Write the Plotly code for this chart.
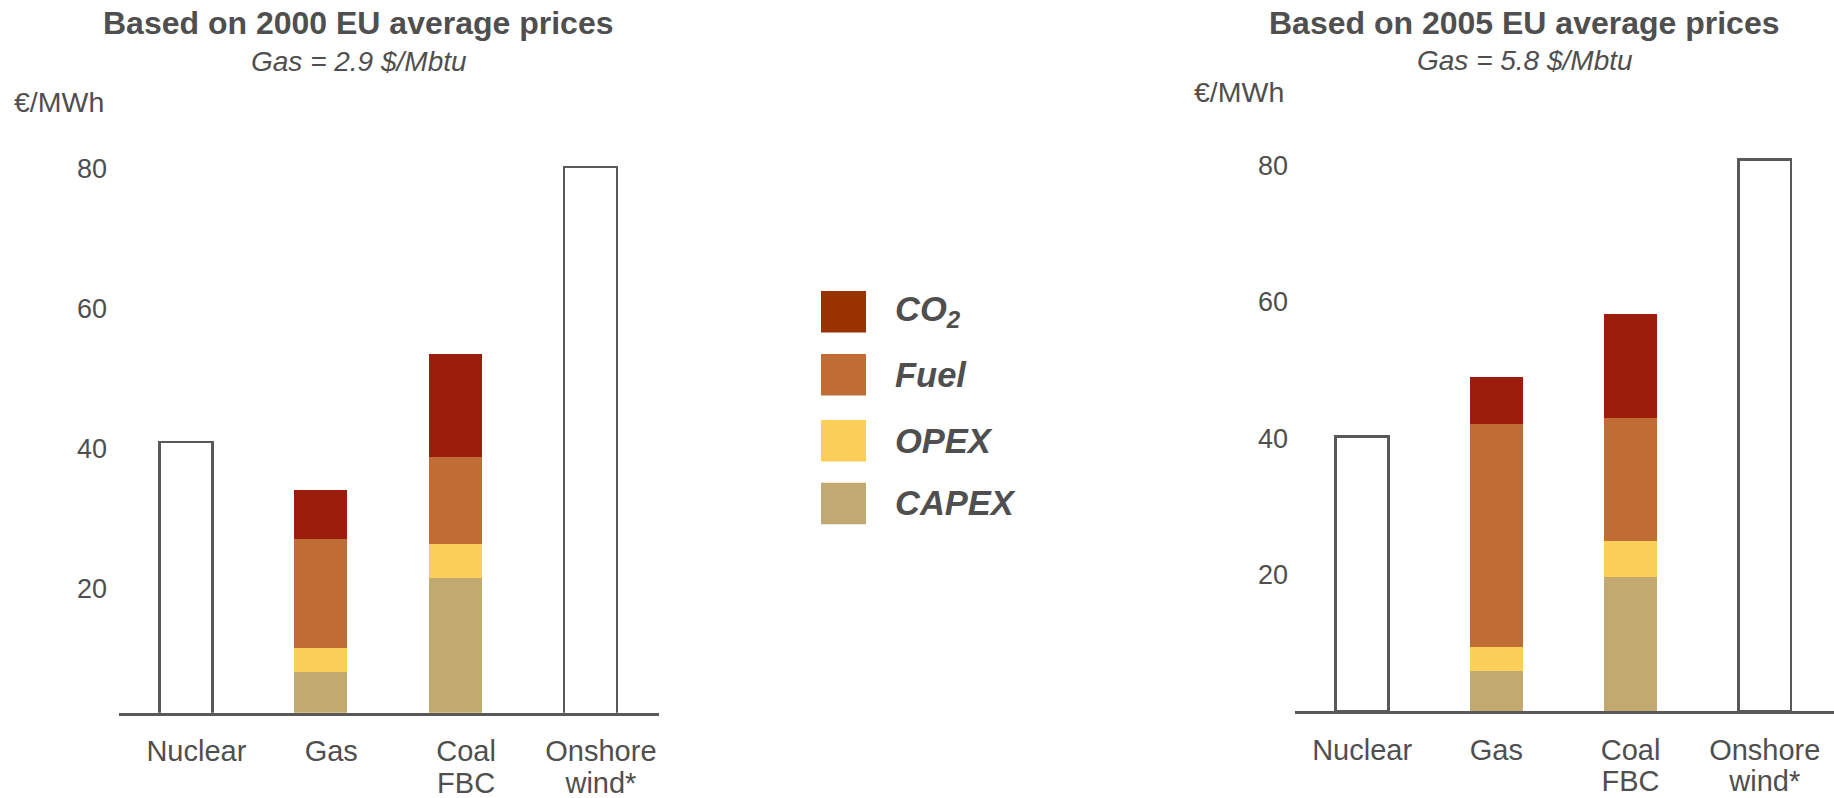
import plotly.graph_objects as go

W, H = 1834, 798

# ---------------- data ----------------
categories = ["Nuclear", "Gas", "Coal FBC", "Onshore wind*"]
tick_labels = ["Nuclear", "Gas", "Coal<br>FBC", "Onshore<br>wind*"]
y_ticks = [20, 40, 60, 80]

# Based on 2000 EU average prices (Gas = 2.9 $/Mbtu), EUR/MWh
capex_2000 = [None, 8.1, 21.5, None]
opex_2000 = [None, 3.4, 4.8, None]
fuel_2000 = [None, 15.6, 12.5, None]
co2_2000 = [None, 6.9, 14.7, None]
total_2000 = [40.9, None, None, 80.2]

# Based on 2005 EU average prices (Gas = 5.8 $/Mbtu), EUR/MWh
capex_2005 = [None, 5.8, 19.7, None]
opex_2005 = [None, 3.6, 5.2, None]
fuel_2005 = [None, 32.7, 18.1, None]
co2_2005 = [None, 6.8, 15.2, None]
total_2005 = [40.2, None, None, 80.8]

legend_labels = ["CO<sub>2</sub>", "Fuel", "OPEX", "CAPEX"]

# ---------------- styles ----------------
TXT = "#4f4f4f"
LINE = "#595959"
FONT = "Liberation Sans, Arial, sans-serif"
bar_colors = {"CAPEX": "#C2A970", "OPEX": "#FBCF5A", "Fuel": "#BF6C35", "CO2": "#9C1D0B"}
legend_colors = ["#983300", "#BF6C35", "#FBCF5A", "#C2A971"]


def px(x):
    return x / W


def py(y):
    return 1 - y / H


fig = go.Figure()

panels = [
    ("x", "y", [capex_2000, opex_2000, fuel_2000, co2_2000], total_2000, -0.2744, 0.393),
    ("x2", "y2", [capex_2005, opex_2005, fuel_2005, co2_2005], total_2005, -0.197, 0.394),
]
names = ["CAPEX", "OPEX", "Fuel", "CO2"]
for xa, ya, comps, tot, off, wid in panels:
    for name, vals in zip(names, comps):
        fig.add_trace(go.Bar(
            x=categories, y=vals, name=name, xaxis=xa, yaxis=ya,
            marker=dict(color=bar_colors[name], line=dict(width=0)),
            offset=off, width=wid, showlegend=False, hoverinfo="skip",
        ))
    fig.add_trace(go.Bar(
        x=categories, y=tot, name="Total", xaxis=xa, yaxis=ya,
        marker=dict(color="white", line=dict(color=LINE, width=2.5)),
        offset=off, width=wid, showlegend=False, hoverinfo="skip",
    ))

# split the category labels into first and second lines
line1 = [t.split("<br>")[0] for t in tick_labels]
second_idx = [i for i, t in enumerate(tick_labels) if "<br>" in t]
line2 = [tick_labels[i].split("<br>")[1] for i in second_idx]

# helper (invisible) traces so the second-line label axes are drawn
for xa, ya in [("x3", "y"), ("x4", "y2")]:
    fig.add_trace(go.Scatter(x=second_idx, y=[None] * len(second_idx), xaxis=xa, yaxis=ya,
                             mode="markers", showlegend=False, hoverinfo="skip"))

CAT_FONT = dict(family=FONT, size=29, color=TXT)
xcommon = dict(
    type="category", categoryorder="array", categoryarray=categories,
    tickvals=categories, ticktext=line1,
    showline=True, linecolor=LINE, linewidth=2.5, ticks="",
    showgrid=False, zeroline=False, automargin=False,
    tickfont=CAT_FONT, ticklabelstandoff=11,
)
x2nd = dict(
    type="linear", tickvals=second_idx, ticktext=line2, side="bottom",
    showline=False, ticks="", showgrid=False, zeroline=False, automargin=False,
    tickfont=CAT_FONT, ticklabelstandoff=50,
)
ycommon = dict(
    tickvals=y_ticks, showline=False, showgrid=False, zeroline=False,
    ticks="", automargin=False,
    tickfont=dict(family=FONT, size=27, color=TXT),
)

xr1 = [-0.574, 3.427]
xr2 = [-0.5, 3.516]
fig.update_layout(
    width=W, height=H, autosize=False,
    margin=dict(l=0, r=0, t=0, b=0),
    paper_bgcolor="white", plot_bgcolor="white",
    barmode="stack", showlegend=False,
    xaxis=dict(domain=[px(119), px(658.5)], range=xr1, anchor="y", **xcommon),
    yaxis=dict(domain=[py(712.7), py(133.3)], range=[2.23, 85], anchor="x",
               ticklabelstandoff=11, **ycommon),
    xaxis2=dict(domain=[px(1295), 1.0], range=xr2, anchor="y2", **xcommon),
    yaxis2=dict(domain=[py(711), py(131)], range=[0, 85], anchor="x2",
                ticklabelstandoff=6, **ycommon),
    xaxis3=dict(overlaying="x", anchor="y", range=xr1, **x2nd),
    xaxis4=dict(overlaying="x2", anchor="y2", range=xr2, **x2nd),
)

annots = [
    dict(text="<b>Based on 2000 EU average prices</b>", x=px(358), y=py(22.5), size=32),
    dict(text="<i>Gas = 2.9 $/Mbtu</i>", x=px(359.4), y=py(61.5), size=28),
    dict(text="<b>Based on 2005 EU average prices</b>", x=px(1524), y=py(22.5), size=32),
    dict(text="<i>Gas = 5.8 $/Mbtu</i>", x=px(1525), y=py(61), size=28),
]
for a in annots:
    fig.add_annotation(text=a["text"], x=a["x"], y=a["y"], xref="paper", yref="paper",
                       xanchor="center", yanchor="middle", showarrow=False,
                       font=dict(family=FONT, size=a["size"], color=TXT))

for xr, yc in [(105.8, 102), (1285.5, 91.7)]:
    fig.add_annotation(text="€/MWh", x=px(xr), y=py(yc), xref="paper", yref="paper",
                       xanchor="right", yanchor="middle", showarrow=False,
                       font=dict(family=FONT, size=28.5, color=TXT))

# legend (drawn manually: large swatches)
box_tops = [291, 354, 420, 482.7]
box_h = 41.5
for lab, col, top in zip(legend_labels, legend_colors, box_tops):
    fig.add_shape(type="rect", xref="paper", yref="paper",
                  x0=px(821), x1=px(866), y0=py(top + box_h), y1=py(top),
                  fillcolor=col, line=dict(width=0))
    fig.add_annotation(text="<b><i>" + lab + "</i></b>", x=px(893), y=py(top + box_h / 2),
                       xref="paper", yref="paper", xanchor="left", yanchor="middle",
                       showarrow=False, font=dict(family=FONT, size=34.5, color=TXT))

fig.write_html("out.html", config={"displayModeBar": False},
               post_script="document.body.style.margin='0px';")
